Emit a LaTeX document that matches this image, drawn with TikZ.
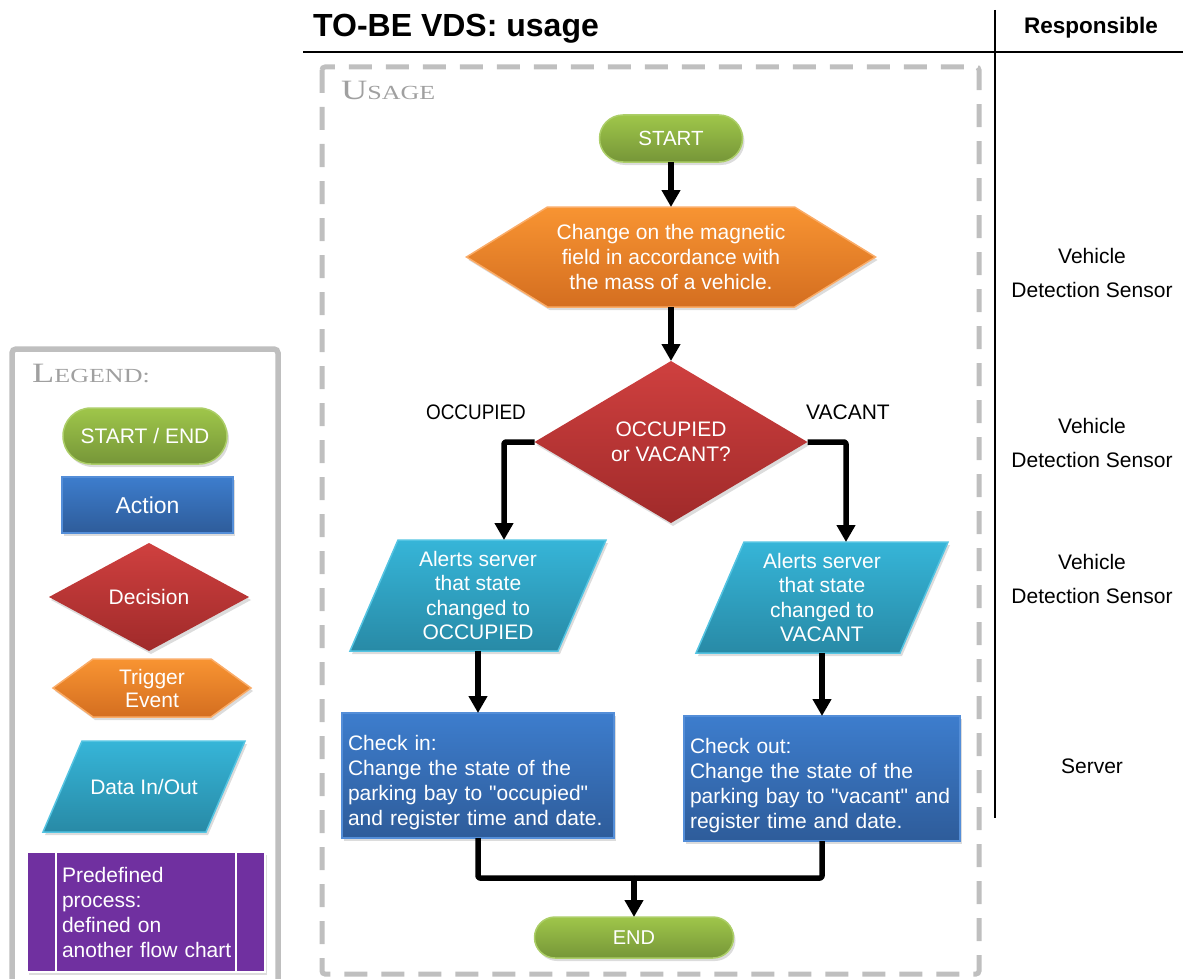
\documentclass[tikz,border=0pt]{standalone}
\usepackage{fontspec}
\setmainfont{Liberation Sans}
\newfontfamily\capsfont{Liberation Serif}
\usetikzlibrary{arrows.meta,backgrounds,shadows,calc,shapes.geometric}

\definecolor{greenT}{RGB}{159,198,74}
\definecolor{greenB}{RGB}{118,150,56}
\definecolor{greenE}{RGB}{172,206,104}
\definecolor{orangeT}{RGB}{248,148,50}
\definecolor{orangeB}{RGB}{212,110,32}
\definecolor{orangeE}{RGB}{250,172,104}
\definecolor{redT}{RGB}{207,64,63}
\definecolor{redB}{RGB}{160,42,42}
\definecolor{cyanT}{RGB}{54,181,216}
\definecolor{cyanB}{RGB}{40,138,166}
\definecolor{cyanE}{RGB}{84,196,226}
\definecolor{blueT}{RGB}{61,125,205}
\definecolor{blueB}{RGB}{46,92,154}
\definecolor{blueE}{RGB}{84,142,216}
\definecolor{purp}{RGB}{112,48,160}
\definecolor{framegray}{RGB}{191,191,191}
\definecolor{capsgray}{RGB}{160,160,160}

\newcommand{\fsz}[2]{\fontsize{#1}{#2}\selectfont}
\newcommand{\dq}{\textquotedbl}
\newcommand{\topgap}{\rule{0pt}{29pt}}

\tikzset{
  softshadow/.style={drop shadow={opacity=0.28, shadow xshift=2pt, shadow yshift=-3pt}},
  txt/.style={inner sep=0, outer sep=0, text=white, align=center, font=\fsz{21}{25}},
  pill/.style={txt, softshadow, top color=greenT, bottom color=greenB, draw=greenE, line width=1.5},
  actionbox/.style={txt, softshadow, top color=blueT, bottom color=blueB, draw=blueE, line width=1.5},
  decision/.style={txt, diamond, aspect=1.68, softshadow, top color=redT, bottom color=redB, draw=none},
  hexfill/.style={softshadow, top color=orangeT, bottom color=orangeB, draw=orangeE, line width=1.5},
  parafill/.style={softshadow, top color=cyanT, bottom color=cyanB, draw=cyanE, line width=1.5},
  predef/.style={txt, softshadow, fill=purp, draw=white, line width=1.2},
  lbl/.style={inner sep=0, align=center, font=\fsz{21}{34}},
  flow/.style={line width=5.5, draw=black, line join=round, rounded corners=2},
  arrow/.style={flow, -{Triangle[width=18pt,length=17pt]}},
  caps/.style={inner sep=0, text=capsgray, font=\capsfont},
}

\begin{document}
\begin{tikzpicture}[x=1pt, y=-1pt]
\useasboundingbox (0,0) rectangle (1183,979);

% ---------- header ----------
\node[anchor=base west, inner sep=0] (title) at (313,37)
  {\fsz{32}{32}\bfseries TO-BE VDS: usage};
\node[anchor=base, inner sep=0] (resp) at (1091,34)
  {\fsz{22.5}{23}\bfseries Responsible};
\draw[line width=2.5] (303,52) -- (1183,52);
\draw[line width=2.5] (995,10) -- (995,818);

% ---------- responsible column ----------
\node[lbl] (r1) at (1092,273) {Vehicle\\Detection Sensor};
\node[lbl] (r2) at (1092,443) {Vehicle\\Detection Sensor};
\node[lbl] (r3) at (1092,579) {Vehicle\\Detection Sensor};
\node[lbl] (r4) at (1092,766) {Server};

% ---------- usage frame ----------
\draw[framegray, line width=5, dash pattern=on 23pt off 14pt, rounded corners=3]
  (322,67) rectangle (979,974);
\node[caps, anchor=base west] (usage) at (341,100)
  {\scalebox{1.3}[1]{\fsz{28}{28}U\fsz{20}{20}SAGE}};

% ---------- legend frame ----------
\draw[framegray, line width=5.5, rounded corners=4] (12,349) rectangle (278,1000);
\node[caps, anchor=base west] (legend) at (32,382)
  {\scalebox{1.3}[1]{\fsz{28}{28}L\fsz{20}{20}EGEND:}};

% ---------- main flow ----------
\node[pill, minimum width=143, minimum height=47, rounded corners=23.5] (start) at (671,138.5)
  {\fsz{20.5}{24}START};
\node[txt, minimum width=409, minimum height=100] (trig) at (671,257)
  {Change on the magnetic\\field in accordance with\\the mass of a vehicle.};
\node[decision, minimum width=273, minimum height=162] (dec) at (671,442)
  {OCCUPIED\\or VACANT?};
\node[txt, minimum width=256, minimum height=111, font=\fsz{21}{24.5}] (lpara) at (478,595.5)
  {Alerts server\\that state\\changed to\\OCCUPIED};
\node[txt, minimum width=252, minimum height=111, font=\fsz{21}{24.5}] (rpara) at (822,597.5)
  {Alerts server\\that state\\changed to\\VACANT};
\node[actionbox, minimum height=125, inner xsep=6, text width=260, align=left] (lrect) at (478,775.5)
  {\topgap Check in:\\Change the state of the\\parking bay to \dq occupied\dq\\and register time and date.};
\node[actionbox, minimum height=125, inner xsep=6, text width=264, align=left] (rrect) at (822,778.5)
  {\topgap Check out:\\Change the state of the\\parking bay to \dq vacant\dq{} and\\register time and date.};
\node[pill, minimum width=199, minimum height=41, rounded corners=20.5] (finish) at (634,937.5)
  {\fsz{20}{24}END};

\node[inner sep=0, font=\fsz{21}{25}] (occ) at (476,412) {\scalebox{0.9}[1]{OCCUPIED}};
\node[inner sep=0, font=\fsz{21}{25}] (vac) at (848,412) {VACANT};

% ---------- legend shapes ----------
\node[pill, minimum width=164, minimum height=56, rounded corners=28] (lgstart) at (145,436)
  {START / END};
\node[actionbox, minimum width=171, minimum height=56] (lgaction) at (147.5,505)
  {\fsz{23}{27}Action};
\node[decision, minimum width=200, minimum height=108] (lgdec) at (149,597) {Decision};
\node[txt, minimum width=198, minimum height=58, font=\fsz{21}{23}] (lgtrig) at (152,688)
  {Trigger\\Event};
\node[txt, minimum width=202, minimum height=91] (lgdata) at (144,786.5) {Data In/Out};
\node[predef, minimum width=238, minimum height=120, text width=172, align=left] (lgpre) at (146,912)
  {\hspace*{2pt}Predefined\\\hspace*{2pt}process:\\\hspace*{2pt}defined on\\\hspace*{2pt}another flow chart};
\draw[white, line width=1.2] ([xshift=29pt]lgpre.north west) -- ([xshift=29pt]lgpre.south west);
\draw[white, line width=1.2] ([xshift=-29pt]lgpre.north east) -- ([xshift=-29pt]lgpre.south east);

% ---------- custom outlines behind the text ----------
\begin{scope}[on background layer]
  \path[hexfill] (trig.west) -- ($(trig.north west)+(81,0)$) -- ($(trig.north east)+(-81,0)$)
    -- (trig.east) -- ($(trig.south east)+(-81,0)$) -- ($(trig.south west)+(81,0)$) -- cycle;
  \path[parafill] (lpara.south west) -- ($(lpara.north west)+(48,0)$) -- (lpara.north east)
    -- ($(lpara.south east)+(-48,0)$) -- cycle;
  \path[parafill] (rpara.south west) -- ($(rpara.north west)+(48,0)$) -- (rpara.north east)
    -- ($(rpara.south east)+(-48,0)$) -- cycle;
  \path[hexfill] (lgtrig.west) -- ($(lgtrig.north west)+(40,0)$) -- ($(lgtrig.north east)+(-40,0)$)
    -- (lgtrig.east) -- ($(lgtrig.south east)+(-40,0)$) -- ($(lgtrig.south west)+(40,0)$) -- cycle;
  \path[parafill] (lgdata.south west) -- ($(lgdata.north west)+(39,0)$) -- (lgdata.north east)
    -- ($(lgdata.south east)+(-39,0)$) -- cycle;
\end{scope}

% ---------- connectors ----------
\coordinate (merge) at (634,878);
\draw[arrow] (start.south) -- (trig.north);
\draw[arrow] (trig.south) -- (dec.north);
\draw[arrow] (dec.west) -| ($(lpara.north)+(26,0)$);
\draw[arrow] (dec.east) -| ($(rpara.north)+(24,0)$);
\draw[arrow] (lpara.south) -- (lrect.north);
\draw[arrow] (rpara.south) -- (rrect.north);
\draw[flow] (lrect.south) |- (merge);
\draw[flow] (rrect.south) |- (merge);
\draw[arrow] (merge) -- (finish.north);
\end{tikzpicture}
\end{document}
